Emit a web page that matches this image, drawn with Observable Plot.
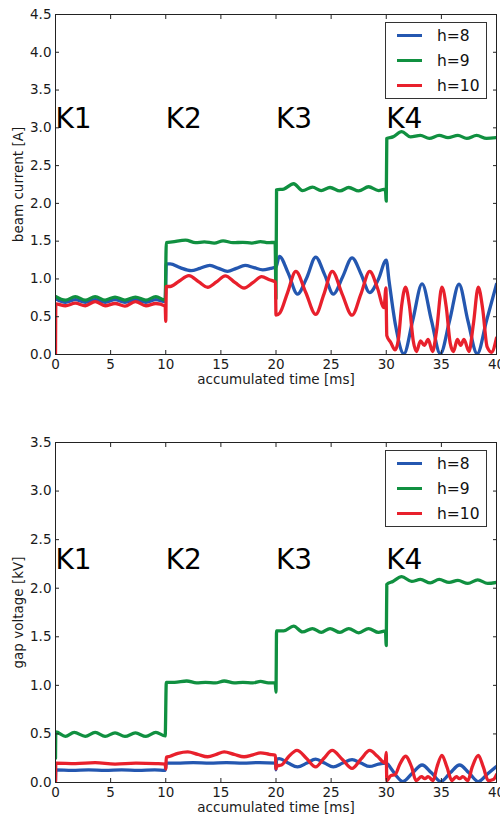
<!DOCTYPE html>
<html><head><meta charset="utf-8">
<script src="https://cdn.jsdelivr.net/npm/d3@7"></script>
<script src="https://cdn.jsdelivr.net/npm/@observablehq/plot@0.6"></script>
<style>
body{margin:0;background:#fff;font-family:"DejaVu Sans",sans-serif;}
.panel{position:relative;width:500px;}
.panel svg{display:block;}
.legend{position:absolute;left:385px;width:100px;border:1px solid #333;background:#fff;box-sizing:content-box;}
.legend .row{height:25px;display:flex;align-items:center;}
.legend .sw{width:25px;height:2.4px;margin-left:11px;margin-right:15px;}
.legend .lb{font-size:15.5px;color:#111;font-family:"DejaVu Sans",sans-serif;}
</style></head><body>
<div id="top" class="panel"></div>
<div id="bottom" class="panel"></div>
<script>
const seriesNames = ["h=8", "h=9", "h=10"];
const seriesColors = ["#2457b0", "#109040", "#e8202c"];
const kLabels = ["K1", "K2", "K3", "K4"];
const kStarts = [0, 10, 20, 30];
const timeTicks = [0, 5, 10, 15, 20, 25, 30, 35, 40];
const currentTicks = [0, 0.5, 1, 1.5, 2, 2.5, 3, 3.5, 4, 4.5];
const voltageTicks = [0, 0.5, 1, 1.5, 2, 2.5, 3, 3.5];

// beam current [A], h=8
const currentH8 = [[0,0.74],[0.9,0.69],[1.8,0.725],[2.7,0.69],[3.6,0.725],[4.5,0.69],[5.4,0.725],[6.3,0.69],[7.25,0.725],[8.2,0.69],[9.1,0.725],[9.95,0.70],[10.05,1.20],[10.4,1.20],[11.3,1.15],[12.3,1.11],[13.1,1.14],[14.0,1.18],[14.8,1.14],[15.6,1.10],[16.4,1.14],[17.2,1.18],[18.0,1.15],[18.8,1.12],[19.5,1.14],[20.0,1.16],[20.3,1.30],[21.1,1.08],[21.95,0.80],[22.8,1.02],[23.6,1.29],[24.4,1.06],[25.2,0.80],[26.05,1.03],[26.9,1.28],[27.7,1.07],[28.5,0.82],[29.3,1.0],[30.0,1.25],[30.25,0.98],[30.85,0.38],[31.6,0.01],[32.4,0.45],[33.25,0.935],[34.1,0.45],[34.9,0.01],[35.75,0.45],[36.6,0.93],[37.4,0.45],[38.25,0.01],[39.1,0.45],[40,0.93]];
// beam current [A], h=9
const currentH9 = [[0,0.77],[0.9,0.72],[1.8,0.765],[2.7,0.72],[3.6,0.765],[4.5,0.72],[5.4,0.76],[6.3,0.72],[7.25,0.76],[8.2,0.72],[9.1,0.765],[9.95,0.72],[10.05,1.48],[10.6,1.49],[11.8,1.515],[12.7,1.48],[13.5,1.49],[14.4,1.475],[15.2,1.505],[16.1,1.48],[17.0,1.485],[17.8,1.475],[18.6,1.495],[19.3,1.48],[19.92,1.485],[20.0,0.74],[20.05,2.18],[20.7,2.19],[21.6,2.26],[22.4,2.17],[23.3,2.215],[24.1,2.17],[24.9,2.21],[25.8,2.165],[26.6,2.21],[27.5,2.165],[28.4,2.22],[29.3,2.17],[29.92,2.19],[30.0,2.03],[30.05,2.86],[30.6,2.88],[31.4,2.95],[32.2,2.88],[33.1,2.9],[33.9,2.86],[34.8,2.9],[35.6,2.87],[36.5,2.9],[37.3,2.86],[38.2,2.9],[39.1,2.86],[40,2.87]];
// beam current [A], h=10
const currentH10 = [[0,0.0],[0.03,0.67],[0.9,0.645],[1.8,0.68],[2.7,0.645],[3.6,0.70],[4.5,0.645],[5.4,0.675],[6.3,0.64],[7.25,0.70],[8.2,0.645],[9.1,0.675],[9.95,0.64],[10.0,0.44],[10.05,0.90],[10.4,0.90],[11.2,0.97],[12.1,1.045],[13.0,0.96],[13.8,0.89],[14.6,0.96],[15.4,1.04],[16.3,0.95],[17.1,0.88],[17.9,0.95],[18.7,1.03],[19.4,0.99],[19.95,0.96],[20.0,0.52],[20.35,0.55],[21.05,0.82],[21.8,1.10],[22.7,0.82],[23.6,0.53],[24.35,0.80],[25.1,1.10],[26.0,0.80],[26.9,0.52],[27.7,0.80],[28.5,1.10],[29.2,0.88],[29.8,0.62],[29.97,0.88],[30.05,0.25],[30.4,0.16],[30.8,0.06],[31.1,0.2],[31.4,0.65],[31.75,0.89],[32.1,0.65],[32.45,0.18],[32.75,0.04],[33.1,0.18],[33.45,0.12],[33.8,0.2],[34.2,0.04],[34.55,0.3],[35.05,0.89],[35.45,0.62],[35.8,0.15],[36.1,0.04],[36.45,0.2],[36.75,0.12],[37.05,0.2],[37.5,0.04],[37.9,0.4],[38.35,0.89],[38.75,0.6],[39.15,0.1],[39.55,0.03],[40,0.22]];

// gap voltage [kV], h=8
const voltageH8 = [[0,0.02],[0.03,0.13],[1.5,0.125],[3,0.13],[4.5,0.125],[6,0.13],[7.5,0.125],[9,0.13],[9.95,0.125],[10.05,0.20],[11,0.2],[12.5,0.205],[14,0.2],[15.5,0.205],[17,0.2],[18.5,0.205],[19.95,0.2],[20.0,0.13],[20.05,0.24],[20.3,0.245],[21.1,0.2],[21.95,0.16],[22.8,0.2],[23.6,0.24],[24.4,0.2],[25.2,0.16],[26.05,0.2],[26.9,0.235],[27.7,0.2],[28.5,0.165],[29.3,0.19],[30.0,0.2],[30.4,0.15],[30.9,0.07],[31.5,0.01],[32.4,0.1],[33.25,0.18],[34.1,0.1],[34.95,0.01],[35.8,0.1],[36.65,0.18],[37.5,0.1],[38.35,0.01],[39.2,0.09],[40,0.165]];
// gap voltage [kV], h=9
const voltageH9 = [[0,0.25],[0.03,0.52],[0.9,0.475],[1.7,0.515],[2.7,0.475],[3.6,0.515],[4.5,0.475],[5.4,0.51],[6.3,0.475],[7.25,0.51],[8.2,0.475],[9.1,0.515],[9.95,0.48],[10.05,1.03],[10.8,1.03],[11.9,1.045],[12.8,1.025],[13.6,1.03],[14.5,1.025],[15.3,1.045],[16.2,1.025],[17.0,1.03],[17.9,1.025],[18.6,1.04],[19.3,1.025],[19.93,1.025],[20.0,0.93],[20.05,1.56],[20.7,1.56],[21.6,1.61],[22.4,1.55],[23.3,1.585],[24.1,1.545],[24.9,1.585],[25.8,1.545],[26.6,1.585],[27.5,1.54],[28.4,1.585],[29.3,1.545],[29.93,1.56],[30.0,1.41],[30.05,2.04],[30.6,2.07],[31.4,2.12],[32.3,2.07],[33.1,2.09],[34.0,2.055],[34.8,2.09],[35.7,2.06],[36.5,2.08],[37.4,2.05],[38.3,2.085],[39.2,2.05],[40,2.06]];
// gap voltage [kV], h=10
const voltageH10 = [[0,0],[0.03,0.2],[1.8,0.195],[3.6,0.205],[5.4,0.19],[7.3,0.2],[9.1,0.195],[9.95,0.19],[10.0,0.14],[10.05,0.26],[10.4,0.27],[11.1,0.3],[12.0,0.315],[12.9,0.29],[13.8,0.265],[14.6,0.29],[15.3,0.315],[16.2,0.29],[17.1,0.265],[17.9,0.285],[18.6,0.305],[19.4,0.29],[19.95,0.28],[20.0,0.14],[20.05,0.17],[20.5,0.18],[21.1,0.26],[21.9,0.33],[22.75,0.25],[23.6,0.16],[24.35,0.25],[25.1,0.33],[26.0,0.24],[26.9,0.145],[27.7,0.24],[28.5,0.33],[29.2,0.27],[29.9,0.2],[30.0,0.31],[30.05,0.02],[30.4,0.07],[30.8,0.08],[31.2,0.18],[31.75,0.27],[32.3,0.16],[32.7,0.02],[33.2,0.06],[33.5,0.04],[33.8,0.06],[34.25,0.02],[34.6,0.16],[35.05,0.28],[35.5,0.16],[35.95,0.02],[36.35,0.06],[36.65,0.04],[36.95,0.06],[37.4,0.02],[37.8,0.16],[38.35,0.28],[38.8,0.16],[39.25,0.02],[39.7,0.03],[40,0.08]];

function makePanel(o) {
  const rows = [];
  o.series.forEach((arr, i) => arr.forEach(([t, v]) => rows.push({t, v, h: seriesNames[i]})));
  const kData = kLabels.map((label, i) => ({t: kStarts[i], v: o.kY, label}));
  const chart = Plot.plot({
    width: 500, height: o.height,
    marginLeft: 55, marginRight: 4, marginTop: o.marginTop, marginBottom: o.marginBottom,
    style: {fontFamily: "DejaVu Sans", fontSize: "13.5px", color: "#1a1a1a", background: "#fff", overflow: "visible"},
    x: {domain: [0, 40]},
    y: {domain: o.yDomain},
    color: {domain: seriesNames, range: seriesColors},
    marks: [
      Plot.line(rows, {x: "t", y: "v", z: "h", stroke: "h", strokeWidth: 3.3, curve: "monotone-x", clip: true}),
      Plot.text(kData, {x: "t", y: "v", text: "label", textAnchor: "start", lineAnchor: "bottom", fontSize: 28, fill: "#000"}),
      Plot.frame({stroke: "#222"}),
      Plot.axisX({ticks: timeTicks, anchor: "bottom", tickSize: -4, tickPadding: 9, stroke: "#222", label: "accumulated time [ms]", labelAnchor: "center", labelArrow: "none", labelOffset: 29}),
      Plot.axisX({ticks: timeTicks, anchor: "top", tickSize: -4, stroke: "#222", tickFormat: () => "", label: null}),
      Plot.axisY({ticks: o.yTicks, anchor: "left", tickSize: -4, tickPadding: 8, stroke: "#222", tickFormat: d3.format(".1f"), label: o.yLabel, labelAnchor: "center", labelArrow: "none", labelOffset: 42}),
      Plot.axisY({ticks: o.yTicks, anchor: "right", tickSize: -4, stroke: "#222", tickFormat: () => "", label: null})
    ]
  });
  const host = document.getElementById(o.id);
  host.appendChild(chart);
  const lg = document.createElement("div");
  lg.className = "legend";
  lg.style.top = o.legendTop + "px";
  seriesNames.forEach((name, i) => {
    const r = document.createElement("div");
    r.className = "row";
    const sw = document.createElement("div");
    sw.className = "sw";
    sw.style.background = seriesColors[i];
    const lb = document.createElement("span");
    lb.className = "lb";
    lb.textContent = name;
    r.appendChild(sw); r.appendChild(lb);
    lg.appendChild(r);
  });
  host.appendChild(lg);
}

makePanel({id: "top", series: [currentH8, currentH9, currentH10], yDomain: [0, 4.5], yTicks: currentTicks,
  yLabel: "beam current [A]", kY: 3.0, height: 410, marginTop: 14, marginBottom: 56, legendTop: 22});
makePanel({id: "bottom", series: [voltageH8, voltageH9, voltageH10], yDomain: [0, 3.5], yTicks: voltageTicks,
  yLabel: "gap voltage [kV]", kY: 2.2, height: 408, marginTop: 32, marginBottom: 36, legendTop: 40});
</script>
</body></html>
